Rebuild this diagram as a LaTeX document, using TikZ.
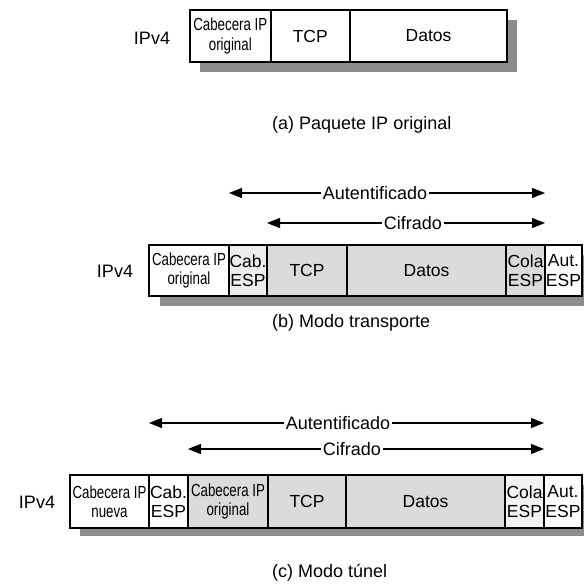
\documentclass[tikz,border=0pt]{standalone}
\usepackage{fontspec}
\setmainfont{Liberation Sans}
\newfontfamily\narrowsans[FakeStretch=0.76]{Liberation Sans}
\usetikzlibrary{arrows.meta}
\tikzset{
  base/.style={font=\fontsize{18}{20}\selectfont},
  cell/.style={font=\fontsize{17.5}{19.5}\selectfont, draw=black, fill=white, line width=2pt, inner sep=0pt, align=center},
  enc/.style={cell, fill=black!14},
  narrow/.style={font=\fontsize{17.5}{19.5}\selectfont\narrowsans},
  shadowbox/.style={fill=black!45, draw=none},
  span/.style={line width=1.1pt, {Triangle[length=13pt,width=10pt]}-{Triangle[length=13pt,width=10pt]}},
  spanlabel/.style={base, fill=white, inner sep=1.5pt},
  lbl/.style={base, inner sep=0pt},
  caption/.style={base, inner sep=0pt, anchor=west}
}
\begin{document}
\begin{tikzpicture}[x=1pt,y=-1pt]
\fill[white] (0,0) rectangle (584,586);
\path[use as bounding box] (0,0) rectangle (584,586);

% ---------- (a) ----------
\fill[shadowbox] (200,20) rectangle (517,72);
\node[lbl] (ipa) at (152,38) {IPv4};
\node[cell, narrow, minimum width=80.7pt, minimum height=52pt] (a1) at (230.3,36) {Cabecera IP\\original};
\node[cell, minimum width=79.3pt, minimum height=52pt] (a2) at (310.3,36) {TCP};
\node[cell, minimum width=157pt, minimum height=52pt] (a3) at (428.5,36) {Datos};
\node[caption] (capa) at (272,125) {(a) Paquete IP original};

% ---------- (b) ----------
\fill[shadowbox] (160,255) rectangle (584,306);
\node[lbl] (ipb) at (115,271) {IPv4};
\node[cell, narrow, minimum width=80pt, minimum height=51pt] (b1) at (189,270.5) {Cabecera IP\\original};
\node[cell, fill=black!7, minimum width=38pt, minimum height=51pt] (b2) at (248,270.5) {Cab.\\ESP};
\node[enc, minimum width=80pt, minimum height=51pt] (b3) at (307,270.5) {TCP};
\node[enc, minimum width=159pt, minimum height=51pt] (b4) at (426.5,270.5) {Datos};
\node[enc, minimum width=39pt, minimum height=51pt] (b5) at (525.5,270.5) {Cola\\ESP};
\node[cell, minimum width=37pt, minimum height=51pt] (b6) at (563.5,270.5) {Aut.\\ESP};

\coordinate (bal) at (229,193);
\coordinate (bar) at (545,193);
\coordinate (bcl) at (267,223);
\coordinate (bcr) at (545,223);
\draw[span] (bal) -- (bar);
\draw[span] (bcl) -- (bcr);
\node[spanlabel] (bat) at (375,193) {Autentificado};
\node[spanlabel] (bct) at (413,223) {Cifrado};
\node[caption] (capb) at (272,323) {(b) Modo transporte};

% ---------- (c) ----------
\fill[shadowbox] (80,485) rectangle (584,536);
\node[lbl] (ipc) at (37,502) {IPv4};
\node[cell, narrow, minimum width=79pt, minimum height=53pt] (c1) at (109.5,501.5) {Cabecera IP\\nueva};
\node[cell, minimum width=39pt, minimum height=53pt] (c2) at (168.5,501.5) {Cab.\\ESP};
\node[enc, narrow, minimum width=80pt, minimum height=53pt] (c3) at (228,501.5) {Cabecera IP\\original};
\node[enc, minimum width=78pt, minimum height=53pt] (c4) at (307,501.5) {TCP};
\node[enc, minimum width=159pt, minimum height=53pt] (c5) at (425.5,501.5) {Datos};
\node[cell, fill=black!5, minimum width=39pt, minimum height=53pt] (c6) at (524.5,501.5) {Cola\\ESP};
\node[cell, minimum width=38pt, minimum height=53pt] (c7) at (563,501.5) {Aut.\\ESP};

\coordinate (cal) at (149,423);
\coordinate (car) at (544,423);
\coordinate (ccl) at (188,449);
\coordinate (ccr) at (544,449);
\draw[span] (cal) -- (car);
\draw[span] (ccl) -- (ccr);
\node[spanlabel] (cat) at (338,423) {Autentificado};
\node[spanlabel] (cct) at (352,449) {Cifrado};
\node[caption] (capc) at (272,573) {(c) Modo túnel};
\end{tikzpicture}
\end{document}
